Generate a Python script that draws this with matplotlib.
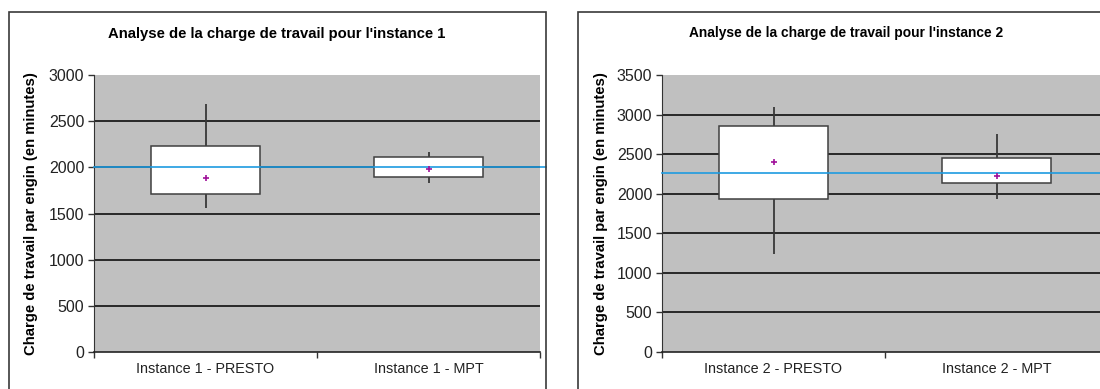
# Analyse de la charge de travail - boîtes à moustaches style Excel
import numpy as np
import matplotlib.pyplot as plt
from matplotlib.patches import Rectangle

plt.rcParams['font.family'] = ['Liberation Sans', 'DejaVu Sans']

# Données instance 1
cat1 = ['Instance 1 - PRESTO', 'Instance 1 - MPT']
min1 = [1560, 1830]
q1_1 = [1710, 1895]
q3_1 = [2235, 2110]
max1 = [2685, 2165]
mean1 = [1880, 1985]
ref1 = 2000

# Données instance 2
cat2 = ['Instance 2 - PRESTO', 'Instance 2 - MPT']
min2 = [1240, 1930]
q1_2 = [1930, 2135]
q3_2 = [2860, 2450]
max2 = [3090, 2750]
mean2 = [2400, 2225]
ref2 = 2265

W, H = 1100, 389
fig = plt.figure(figsize=(W / 100, H / 100), dpi=100)

# Cadres des graphiques
for x0, x1 in [(9, 546), (578, 1115)]:
    fig.patches.append(Rectangle((x0 / W, -0.1), (x1 - x0) / W, 1.1 - 12 / H,
                                 transform=fig.transFigure, fill=False,
                                 edgecolor='#3a3a3a', lw=1.2))


def panel(left, cats, lo, q1, q3, hi, mean, ref, ymax, ylab_x):
    ax = fig.add_axes([left / W, (H - 352) / H, 446 / W, 277 / H])
    ax.set_facecolor('#c0c0c0')
    x = np.arange(len(cats))
    for y in np.arange(500, ymax + 1, 500)[:-1]:
        ax.axhline(y, color='black', lw=1.1, zorder=1)
    ax.vlines(x, lo, hi, color='#383838', lw=1.3, zorder=2)
    ax.bar(x, np.array(q3) - np.array(q1), bottom=q1, width=0.49,
           color='white', edgecolor='#404040', lw=1.1, zorder=3)
    ax.axhline(ref, xmin=0, xmax=1.013, color='#1e9be0', lw=1.2, zorder=4,
               clip_on=False)
    ax.plot(x, mean, '+', color='#a0109a', ms=5, mew=1.2, zorder=5)
    ax.set_xlim(-0.5, 1.5)
    ax.set_ylim(0, ymax)
    ax.set_yticks(np.arange(0, ymax + 1, 500))
    ax.set_xticks([-0.5, 0.5, 1.5])
    ax.set_xticklabels([])
    ax.set_xticks(x, minor=True)
    ax.set_xticklabels(cats, minor=True)
    ax.tick_params(axis='x', which='minor', length=0, pad=7, labelsize=10.4,
                   labelcolor='#222222')
    ax.tick_params(axis='x', which='major', length=4, width=1, color='#333333')
    ax.tick_params(axis='y', length=4, width=1, color='#333333', pad=3,
                   labelsize=11.5, labelcolor='#222222')
    for s in ['top', 'right']:
        ax.spines[s].set_visible(False)
    ax.spines['left'].set_color('#333333')
    ax.spines['bottom'].set_color('#222222')
    ax.spines['bottom'].set_linewidth(1.2)
    ax.set_ylabel('Charge de travail par engin (en minutes)', fontsize=10.7,
                  fontweight='bold', va='center')
    ax.yaxis.set_label_coords((ylab_x - left) / 446, 0.5)
    return ax


ax1 = panel(94, cat1, min1, q1_1, q3_1, max1, mean1, ref1, 3000, 31)
ax2 = panel(662, cat2, min2, q1_2, q3_2, max2, mean2, ref2, 3500, 601)

fig.text(277 / W, 1 - 34 / H, "Analyse de la charge de travail pour l'instance 1",
         ha='center', va='center', fontsize=10.7, fontweight='bold')
fig.text(846 / W, 1 - 33 / H, "Analyse de la charge de travail pour l'instance 2",
         ha='center', va='center', fontsize=9.9, fontweight='bold')

fig.savefig('out.png', dpi=100)
